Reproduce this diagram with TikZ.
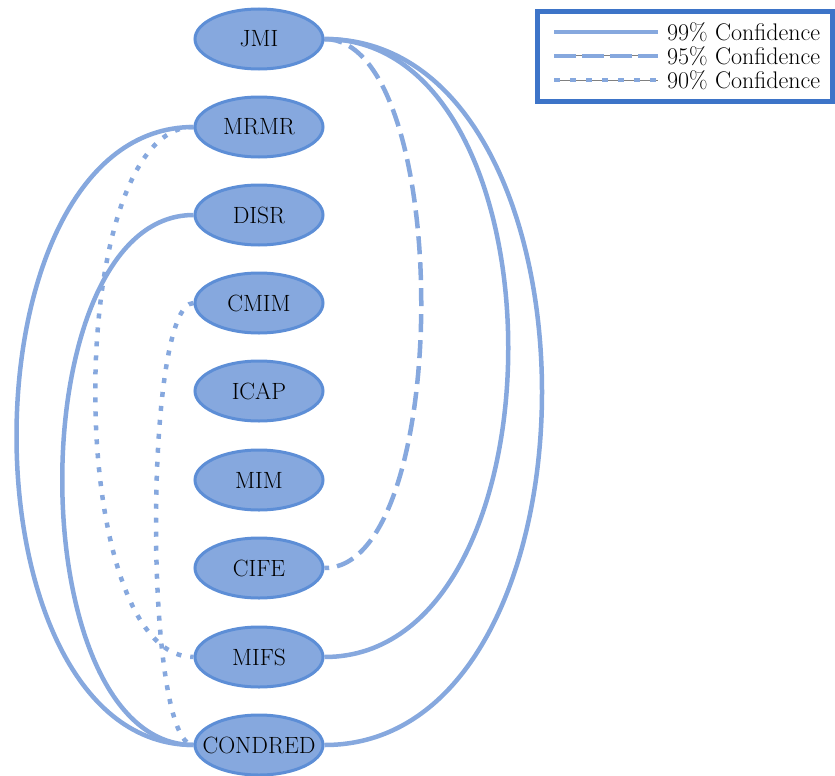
\documentclass[tikz,border=0pt]{standalone}
\usetikzlibrary{shapes.geometric}
\definecolor{edgeblue}{HTML}{86A8DE}
\definecolor{nodefill}{HTML}{86A8DE}
\definecolor{nodeline}{HTML}{5D8ED6}
\definecolor{legline}{HTML}{3D74C8}
\pgfdeclarelayer{bg}
\pgfsetlayers{bg,main}
\newcommand\alglabel[1]{\makebox[0pt]{#1}}
\begin{document}
\begin{tikzpicture}[x=1pt,y=-1pt,
  algo/.style={ellipse,draw=nodeline,fill=nodefill,line width=3pt,minimum width=128pt,minimum height=60pt,inner sep=0pt,font=\fontsize{23.5}{28}\selectfont},
  conf99/.style={draw=edgeblue,line width=4.5pt},
  conf95/.style={draw=edgeblue,line width=4.5pt,dash pattern=on 18pt off 8pt},
  conf90/.style={draw=edgeblue,line width=4.5pt,dash pattern=on 5pt off 9pt},
  legtext/.style={anchor=west,inner sep=0pt,font=\fontsize{24}{28}\selectfont}]
\useasboundingbox (0,0) rectangle (835,776);
\node[algo] (jmi) at (259,39) {\alglabel{JMI}};
\node[algo] (mrmr) at (259,127) {\alglabel{MRMR}};
\node[algo] (disr) at (259,215) {\alglabel{DISR}};
\node[algo] (cmim) at (259,303) {\alglabel{CMIM}};
\node[algo] (icap) at (259,391) {\alglabel{ICAP}};
\node[algo] (mim) at (259,480) {\alglabel{MIM}};
\node[algo] (cife) at (259,568) {\alglabel{CIFE}};
\node[algo] (mifs) at (259,657) {\alglabel{MIFS}};
\node[algo] (condred) at (259,745) {\alglabel{CONDRED}};
\begin{pgfonlayer}{bg}
\draw[conf95] (jmi.east) .. controls +(129,0) and +(129,0) .. (cife.east);
\draw[conf99] (jmi.east) .. controls +(245,0) and +(245,0) .. (mifs.east);
\draw[conf99] (jmi.east) .. controls +(290,0) and +(290,0) .. (condred.east);
\draw[conf99] (mrmr.west) .. controls +(-236,0) and +(-236,0) .. (condred.west);
\draw[conf90] (mrmr.west) .. controls +(-131,0) and +(-131,0) .. (mifs.west);
\draw[conf99] (disr.west) .. controls +(-175,0) and +(-175,0) .. (condred.west);
\draw[conf90] (cmim.west) .. controls +(-50,0) and +(-50,0) .. (condred.west);
\end{pgfonlayer}
% legend
\node[draw=legline,line width=5pt,minimum width=295pt,minimum height=90pt,inner sep=0pt] (legend) at (685,56.5) {};
\coordinate (l1a) at (554,32); \coordinate (l1b) at (658,32);
\coordinate (l2a) at (554,56); \coordinate (l2b) at (658,56);
\coordinate (l3a) at (554,80); \coordinate (l3b) at (658,80);
\draw[conf99] (l1a) -- (l1b);
\draw[gray,line width=1pt] (l2a) -- (l2b);
\draw[conf95,dash pattern=on 22pt off 6pt] (l2a) -- (l2b);
\draw[gray,line width=1pt] (l3a) -- (l3b);
\draw[conf90,dash pattern=on 6pt off 10pt] (l3a) -- (l3b);
\node[legtext] (t1) at (667,32) {99\% Confidence};
\node[legtext] (t2) at (667,56) {95\% Confidence};
\node[legtext] (t3) at (667,80) {90\% Confidence};
\end{tikzpicture}
\end{document}
